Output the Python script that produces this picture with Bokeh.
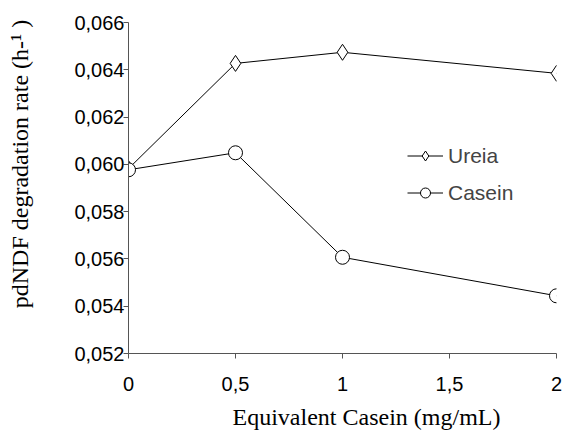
from bokeh.plotting import figure
from bokeh.models import FixedTicker, Legend, LegendItem, Range1d
from bokeh.embed import file_html
from bokeh.resources import INLINE

# Data
x_vals = [0, 0.5, 1, 2]
ureia = [0.05982, 0.06427, 0.06474, 0.06385]
casein = [0.05977, 0.06049, 0.05607, 0.05444]
x_ticks = [0, 0.5, 1, 1.5, 2]
x_tick_labels = ["0", "0,5", "1", "1,5", "2"]
y_ticks = [0.052, 0.054, 0.056, 0.058, 0.060, 0.062, 0.064, 0.066]
y_tick_labels = ["0,052", "0,054", "0,056", "0,058", "0,060", "0,062", "0,064", "0,066"]
x_label = "Equivalent Casein (mg/mL)"
y_label = "pdNDF degradation rate (h-\u00b9 )"

NBSP = "\u00a0"

p = figure(width=563, height=437, output_backend="svg", toolbar_location=None,
           x_range=Range1d(0, 2), y_range=Range1d(0.052, 0.066),
           min_border_left=128, min_border_right=7, min_border_top=22, min_border_bottom=84)
p.outline_line_color = None
p.grid.visible = False
p.background_fill_color = "white"
p.border_fill_color = "white"

l1 = p.line(x_vals, ureia, line_color="black", line_width=1)
m1 = p.scatter(x_vals, ureia, marker="diamond", size=16, fill_color="white", line_color="black", line_width=1)
l2 = p.line(x_vals, casein, line_color="black", line_width=1)
m2 = p.scatter(x_vals, casein, marker="circle", size=14, fill_color="white", line_color="black", line_width=1)

for ax in (p.xaxis[0], p.yaxis[0]):
    ax.axis_line_color = "#555555"
    ax.major_tick_line_color = "#555555"
    ax.minor_tick_line_color = None
    ax.major_tick_in = 0
    ax.major_tick_out = 5
    ax.major_label_text_font = "Liberation Sans"
    ax.major_label_text_font_size = "20px"
    ax.major_label_text_color = "black"
    ax.axis_label_text_font = "Liberation Serif"
    ax.axis_label_text_font_size = "24px"
    ax.axis_label_text_font_style = "normal"
    ax.axis_label_text_color = "black"

p.xaxis[0].ticker = FixedTicker(ticks=x_ticks)
p.xaxis[0].major_label_overrides = dict(zip(x_ticks, x_tick_labels))
p.xaxis[0].major_label_standoff = 18
p.xaxis[0].axis_label = NBSP * 8 + x_label
p.xaxis[0].axis_label_standoff = 10

p.yaxis[0].ticker = FixedTicker(ticks=y_ticks)
p.yaxis[0].major_label_overrides = dict(zip(y_ticks, y_tick_labels))
p.yaxis[0].major_label_standoff = -1
p.yaxis[0].axis_label = NBSP * 8 + y_label
p.yaxis[0].axis_label_standoff = 38

legend = Legend(items=[LegendItem(label="Ureia", renderers=[l1, m1]),
                       LegendItem(label="Casein", renderers=[l2, m2])],
                location=(279, 148), padding=0, margin=0, spacing=12,
                glyph_width=36, glyph_height=25, label_height=25, label_standoff=5,
                label_text_font="Liberation Sans", label_text_font_size="21px",
                border_line_color=None, background_fill_alpha=0)
p.add_layout(legend)

open("out.html", "w").write(file_html(p, INLINE))
